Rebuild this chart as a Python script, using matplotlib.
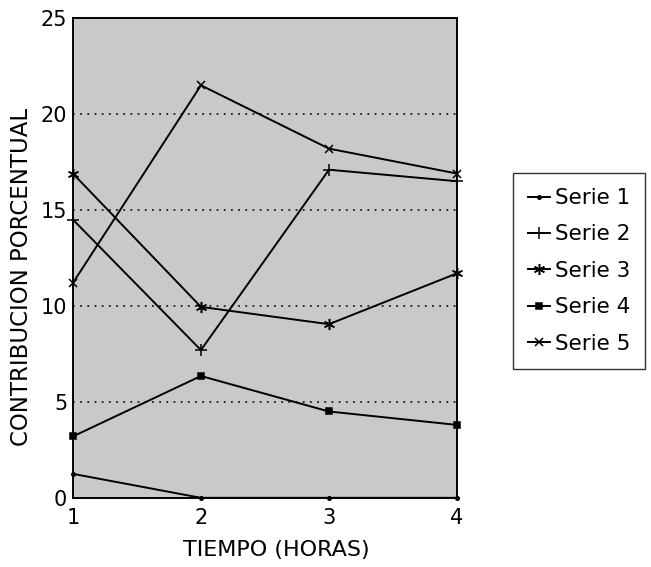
import matplotlib
matplotlib.use('Agg')
import matplotlib.pyplot as plt

horas = [1, 2, 3, 4]
serie1 = [1.25, 0.0, 0.0, 0.0]
serie2 = [14.5, 7.7, 17.1, 16.5]
serie3 = [16.9, 9.95, 9.05, 11.7]
serie4 = [3.2, 6.35, 4.5, 3.8]
serie5 = [11.2, 21.5, 18.2, 16.9]
nombres = ['Serie 1', 'Serie 2', 'Serie 3', 'Serie 4', 'Serie 5']
yticks = [0, 5, 10, 15, 20, 25]

plt.rcParams['font.family'] = ['DejaVu Sans']

fig = plt.figure(figsize=(6.51, 5.67), dpi=100)
ax = fig.add_axes([0.112, 0.122, 0.590, 0.846])
ax.set_facecolor('#c9c9c9')

# lineas de cuadricula punteadas
for v in yticks[1:-1]:
    ax.axhline(v, color='black', lw=1.1, ls=(0, (1.2, 3.5)), zorder=1)

series = [serie1, serie2, serie3, serie4, serie5]
marcadores = [('.', 5), ('+', 9), ((6, 2, 0), 8), ('s', 4), ('x', 6)]
for datos, nombre, (m, ms) in zip(series, nombres, marcadores):
    ax.plot(horas, datos, color='black', lw=1.4, marker=m, markersize=ms,
            markeredgewidth=1.1, label=nombre, clip_on=False, zorder=3)

ax.set_xlim(1, 4)
ax.set_ylim(0, 25)
ax.set_xticks(horas)
ax.set_yticks(yticks)
ax.tick_params(length=0, labelsize=15)
ax.tick_params(axis='x', pad=7)
ax.tick_params(axis='y', pad=4)
for s in ax.spines.values():
    s.set_linewidth(1.4)

ax.set_xlabel('TIEMPO (HORAS)', fontsize=16)
ax.xaxis.set_label_coords(0.53, -0.088)
ax.set_ylabel('CONTRIBUCION PORCENTUAL', fontsize=16.5)
ax.yaxis.set_label_coords(-0.104, 0.46)

leg = ax.legend(loc='upper left', bbox_to_anchor=(513 / 651, 1 - 173 / 567),
                bbox_transform=fig.transFigure, borderaxespad=0, fontsize=15.5,
                frameon=True, fancybox=False, edgecolor='black', handlelength=1.0,
                handletextpad=0.25, labelspacing=0.76, borderpad=0.7)
leg.get_frame().set_linewidth(1.0)

fig.savefig('out.png', dpi=100)
